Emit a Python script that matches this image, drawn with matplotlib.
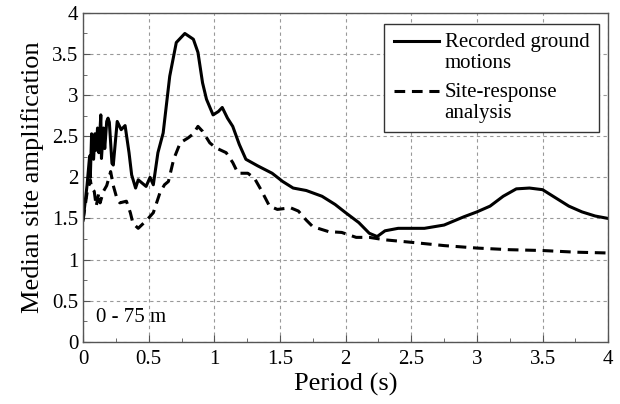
import numpy as np
import matplotlib
matplotlib.use("Agg")
import matplotlib.pyplot as plt
from matplotlib.ticker import MultipleLocator

plt.rcParams['font.family'] = ['Liberation Serif', 'DejaVu Serif']

# recorded ground motions (solid)
rec_T = [0.0, 0.03, 0.05, 0.055, 0.065, 0.08, 0.09, 0.1, 0.11, 0.12, 0.135, 0.14,
         0.155, 0.165, 0.18, 0.19, 0.2, 0.22, 0.23, 0.26, 0.29, 0.32, 0.35, 0.37,
         0.4, 0.42, 0.45, 0.48, 0.51, 0.535, 0.57, 0.61, 0.66, 0.71, 0.775, 0.84,
         0.875, 0.91, 0.94, 0.99, 1.03, 1.06, 1.1, 1.14, 1.19, 1.24, 1.33, 1.44,
         1.52, 1.6, 1.7, 1.82, 1.92, 2.0, 2.1, 2.18, 2.24, 2.3, 2.4, 2.6, 2.75,
         2.9, 3.0, 3.1, 3.2, 3.3, 3.4, 3.5, 3.6, 3.7, 3.8, 3.9, 4.0]
rec_amp = [1.48, 1.9, 2.26, 2.0, 2.53, 2.22, 2.53, 2.33, 2.6, 2.3, 2.76, 2.23,
           2.6, 2.35, 2.68, 2.72, 2.67, 2.17, 2.15, 2.68, 2.58, 2.63, 2.3, 2.03,
           1.87, 1.97, 1.93, 1.89, 2.0, 1.91, 2.3, 2.54, 3.23, 3.64, 3.75, 3.68,
           3.52, 3.15, 2.95, 2.76, 2.8, 2.85, 2.72, 2.62, 2.4, 2.22, 2.14, 2.05,
           1.95, 1.87, 1.84, 1.77, 1.67, 1.57, 1.45, 1.32, 1.28, 1.35, 1.38, 1.38, 1.42,
           1.52, 1.58, 1.65, 1.77, 1.86, 1.87, 1.85, 1.75, 1.65, 1.58, 1.53, 1.5]

# site-response analysis (dashed)
srf_T = [0.0, 0.03, 0.055, 0.065, 0.085, 0.1, 0.12, 0.13, 0.155, 0.18, 0.21,
         0.23, 0.26, 0.28, 0.33, 0.36, 0.38, 0.42, 0.485, 0.535, 0.585, 0.62,
         0.65, 0.69, 0.74, 0.8, 0.84, 0.875, 0.91, 0.965, 1.01, 1.09, 1.14, 1.18,
         1.255, 1.305, 1.355, 1.42, 1.48, 1.58, 1.64, 1.7, 1.75, 1.87, 1.97,
         2.08, 2.18, 2.3, 2.5, 2.75, 3.0, 3.25, 3.5, 3.75, 4.0]
srf_amp = [1.48, 1.81, 1.97, 1.87, 1.83, 1.65, 1.81, 1.69, 1.83, 1.9, 2.07,
           1.9, 1.73, 1.69, 1.71, 1.57, 1.44, 1.38, 1.48, 1.57, 1.81, 1.91,
           1.95, 2.22, 2.42, 2.48, 2.53, 2.62, 2.56, 2.42, 2.36, 2.3, 2.18, 2.05,
           2.05, 1.99, 1.85, 1.65, 1.61, 1.63, 1.59, 1.48, 1.4, 1.34, 1.33,
           1.27, 1.27, 1.24, 1.21, 1.17, 1.14, 1.12, 1.11, 1.09, 1.08]

ticks = [0, 0.5, 1, 1.5, 2, 2.5, 3, 3.5, 4]
tick_labels = ['0', '0.5', '1', '1.5', '2', '2.5', '3', '3.5', '4']

fig = plt.figure(figsize=(6.2, 4.04), dpi=100)
ax = fig.add_axes([0.134, 0.154, 0.847, 0.814])

ax.plot(rec_T, rec_amp, color='black', lw=2.2, solid_joinstyle='round',
        label='Recorded ground\nmotions')
ax.plot(srf_T, srf_amp, color='black', lw=2.2, dashes=(3.5, 2.2),
        dash_joinstyle='round', label='Site-response\nanalysis')

ax.set_xlim(0, 4)
ax.set_ylim(0, 4)
ax.set_xticks(ticks)
ax.set_xticklabels(tick_labels)
ax.set_yticks(ticks)
ax.set_yticklabels(tick_labels)
ax.xaxis.set_minor_locator(MultipleLocator(0.25))
ax.yaxis.set_minor_locator(MultipleLocator(0.25))
ax.tick_params(which='both', direction='in', labelsize=15, color='#555555')
ax.tick_params(which='major', length=5)
ax.tick_params(which='minor', length=3)
ax.tick_params(axis='x', pad=6)
ax.grid(True, which='major', ls=(0, (3, 3)), color='#999999', lw=0.8)
for s in ax.spines.values():
    s.set_color('#555555')
    s.set_linewidth(1.0)

ax.set_xlabel('Period (s)', fontsize=19, labelpad=3)
ax.set_ylabel('Median site amplification', fontsize=19, labelpad=6)

ax.text(0.1, 0.24, '0 - 75 m', fontsize=15)

leg = ax.legend(loc='upper right', bbox_to_anchor=(0.982, 0.966), fontsize=15,
                frameon=True, fancybox=False, edgecolor='#333333',
                handlelength=2.2, handletextpad=0.25, labelspacing=0.5,
                borderpad=0.45, borderaxespad=0.0, framealpha=1)
leg.get_frame().set_linewidth(1.0)
for t in leg.get_texts():
    t.set_linespacing(1.1)
# put the handle level with the first text line, as in the original
for h in leg.legend_handles:
    h.set_ydata(np.asarray(h.get_ydata()) + 8.5)

fig.savefig('out.png', dpi=100)
